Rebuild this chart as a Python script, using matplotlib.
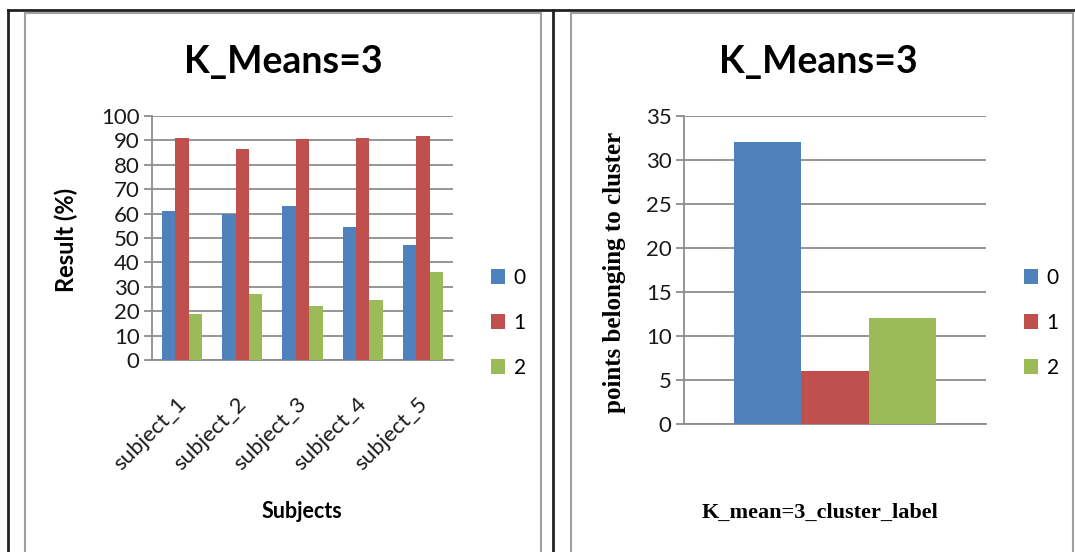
import numpy as np
import matplotlib.pyplot as plt
import matplotlib.transforms as mtransforms
from matplotlib.lines import Line2D
from matplotlib.patches import Patch

# results per subject for each k-means cluster
subjects = ['subject_1', 'subject_2', 'subject_3', 'subject_4', 'subject_5']
cluster_0 = [61, 60, 63, 54.5, 47.3]
cluster_1 = [91, 86.3, 90.4, 91, 92]
cluster_2 = [19, 27, 22, 24.6, 36]

# number of points in each cluster
cluster_labels = ['0', '1', '2']
cluster_counts = [32, 6, 12]

colors = ['#4F81BD', '#C0504D', '#9BBB59']
grid_color = '#8c8c8c'
text_color = '#1a1a1a'

W, H = 1075, 552
fig = plt.figure(figsize=(W / 100, H / 100), dpi=100)


def px(x, y):
    # pixel position (from top-left) -> figure fraction
    return x / W, 1 - y / H


def add_axes(left, top, right, bottom):
    x0, y0 = px(left, bottom)
    x1, y1 = px(right, top)
    return fig.add_axes([x0, y0, x1 - x0, y1 - y0])


def style_axes(ax):
    ax.set_facecolor('none')
    for s in ['top', 'right']:
        ax.spines[s].set_visible(False)
    for s in ['left', 'bottom']:
        ax.spines[s].set_color(grid_color)
        ax.spines[s].set_linewidth(1.3)
    ax.yaxis.grid(True, color=grid_color, linewidth=1.3)
    ax.set_axisbelow(True)
    ax.tick_params(axis='y', length=6, width=1.3, color=grid_color,
                   labelsize=16, labelcolor=text_color, pad=3)
    ax.tick_params(axis='x', length=0)
    for lab in ax.get_yticklabels():
        lab.set_family('Lato')


# table borders and chart frames
frame = dict(transform=fig.transFigure, color='#a0a0a0', linewidth=1.5)
border = dict(transform=fig.transFigure, color='#222222', linewidth=2)
fig.add_artist(Line2D([px(8, 0)[0], 1], [px(0, 9.5)[1]] * 2, **border))
fig.add_artist(Line2D([px(8, 0)[0]] * 2, [0, px(0, 9.5)[1]], **border))
fig.add_artist(Line2D([px(553, 0)[0]] * 2, [0, px(0, 9.5)[1]], **border))
for l, r in [(25, 541), (571, 1073)]:
    fig.add_artist(Line2D([px(l, 0)[0], px(r, 0)[0]], [px(0, 12.5)[1]] * 2, **frame))
    fig.add_artist(Line2D([px(l, 0)[0]] * 2, [0, px(0, 12.5)[1]], **frame))
    fig.add_artist(Line2D([px(r, 0)[0]] * 2, [0, px(0, 12.5)[1]], **frame))

w = 1 / 4.5

# left chart: result per subject
ax1 = add_axes(152, 116, 453, 360)
x = np.arange(len(subjects))
for i, vals in enumerate([cluster_0, cluster_1, cluster_2]):
    ax1.bar(x + (i - 1) * w, vals, width=w, color=colors[i], zorder=3)
ax1.set_xlim(-0.5, len(subjects) - 0.5)
ax1.set_ylim(0, 100)
ax1.set_yticks(range(0, 101, 10))
style_axes(ax1)
ax1.set_xticks(x)
ax1.set_xticklabels(subjects, rotation=45, ha='right', va='top',
                    rotation_mode='anchor', fontsize=16, family='Lato',
                    color=text_color)
ax1.tick_params(axis='x', pad=24)
shift = mtransforms.ScaledTranslation(-6 / 100, 0, fig.dpi_scale_trans)
for lab in ax1.get_xticklabels():
    lab.set_transform(lab.get_transform() + shift)

fig.text(*px(283, 62), 'K_Means=3', ha='center', va='center',
         fontsize=27, fontweight='bold', family='Lato', color='black')
fig.text(*px(66, 240), 'Result (%)', ha='center', va='center', rotation=90,
         fontsize=17, fontweight='bold', family='Lato', color='black')
fig.text(*px(302, 511), 'Subjects', ha='center', va='center',
         fontsize=15.5, fontweight='bold', family='Lato', color='black')

handles = [Patch(facecolor=c) for c in colors]
fig.legend(handles, cluster_labels, loc='center left',
           bbox_to_anchor=px(472, 323), frameon=False,
           prop={'family': 'Lato', 'size': 15}, handlelength=0.7,
           handleheight=0.7, handletextpad=0.4, labelspacing=1.2)

# right chart: points per cluster
ax2 = add_axes(684, 116, 986, 423.7)
for i, v in enumerate(cluster_counts):
    ax2.bar(0.5 + (i - 1) * w, v, width=w, color=colors[i], zorder=3)
ax2.set_xlim(0, 1)
ax2.set_ylim(0, 35)
ax2.set_yticks(range(0, 36, 5))
style_axes(ax2)
ax2.set_xticks([])

fig.text(*px(818, 62), 'K_Means=3', ha='center', va='center',
         fontsize=27, fontweight='bold', family='Lato', color='black')
fig.text(*px(614, 272), 'points belonging to cluster', ha='center',
         va='center', rotation=90, fontsize=18, fontweight='bold',
         family='Liberation Serif', color='black')
fig.text(*px(820, 513), 'K_mean=3_cluster_label', ha='center', va='center',
         fontsize=16, fontweight='bold', family='Liberation Serif',
         color='black')

fig.legend(handles, cluster_labels, loc='center left',
           bbox_to_anchor=px(1005, 323), frameon=False,
           prop={'family': 'Lato', 'size': 15}, handlelength=0.7,
           handleheight=0.7, handletextpad=0.4, labelspacing=1.2)

fig.savefig('out.png', dpi=100, facecolor='white')
